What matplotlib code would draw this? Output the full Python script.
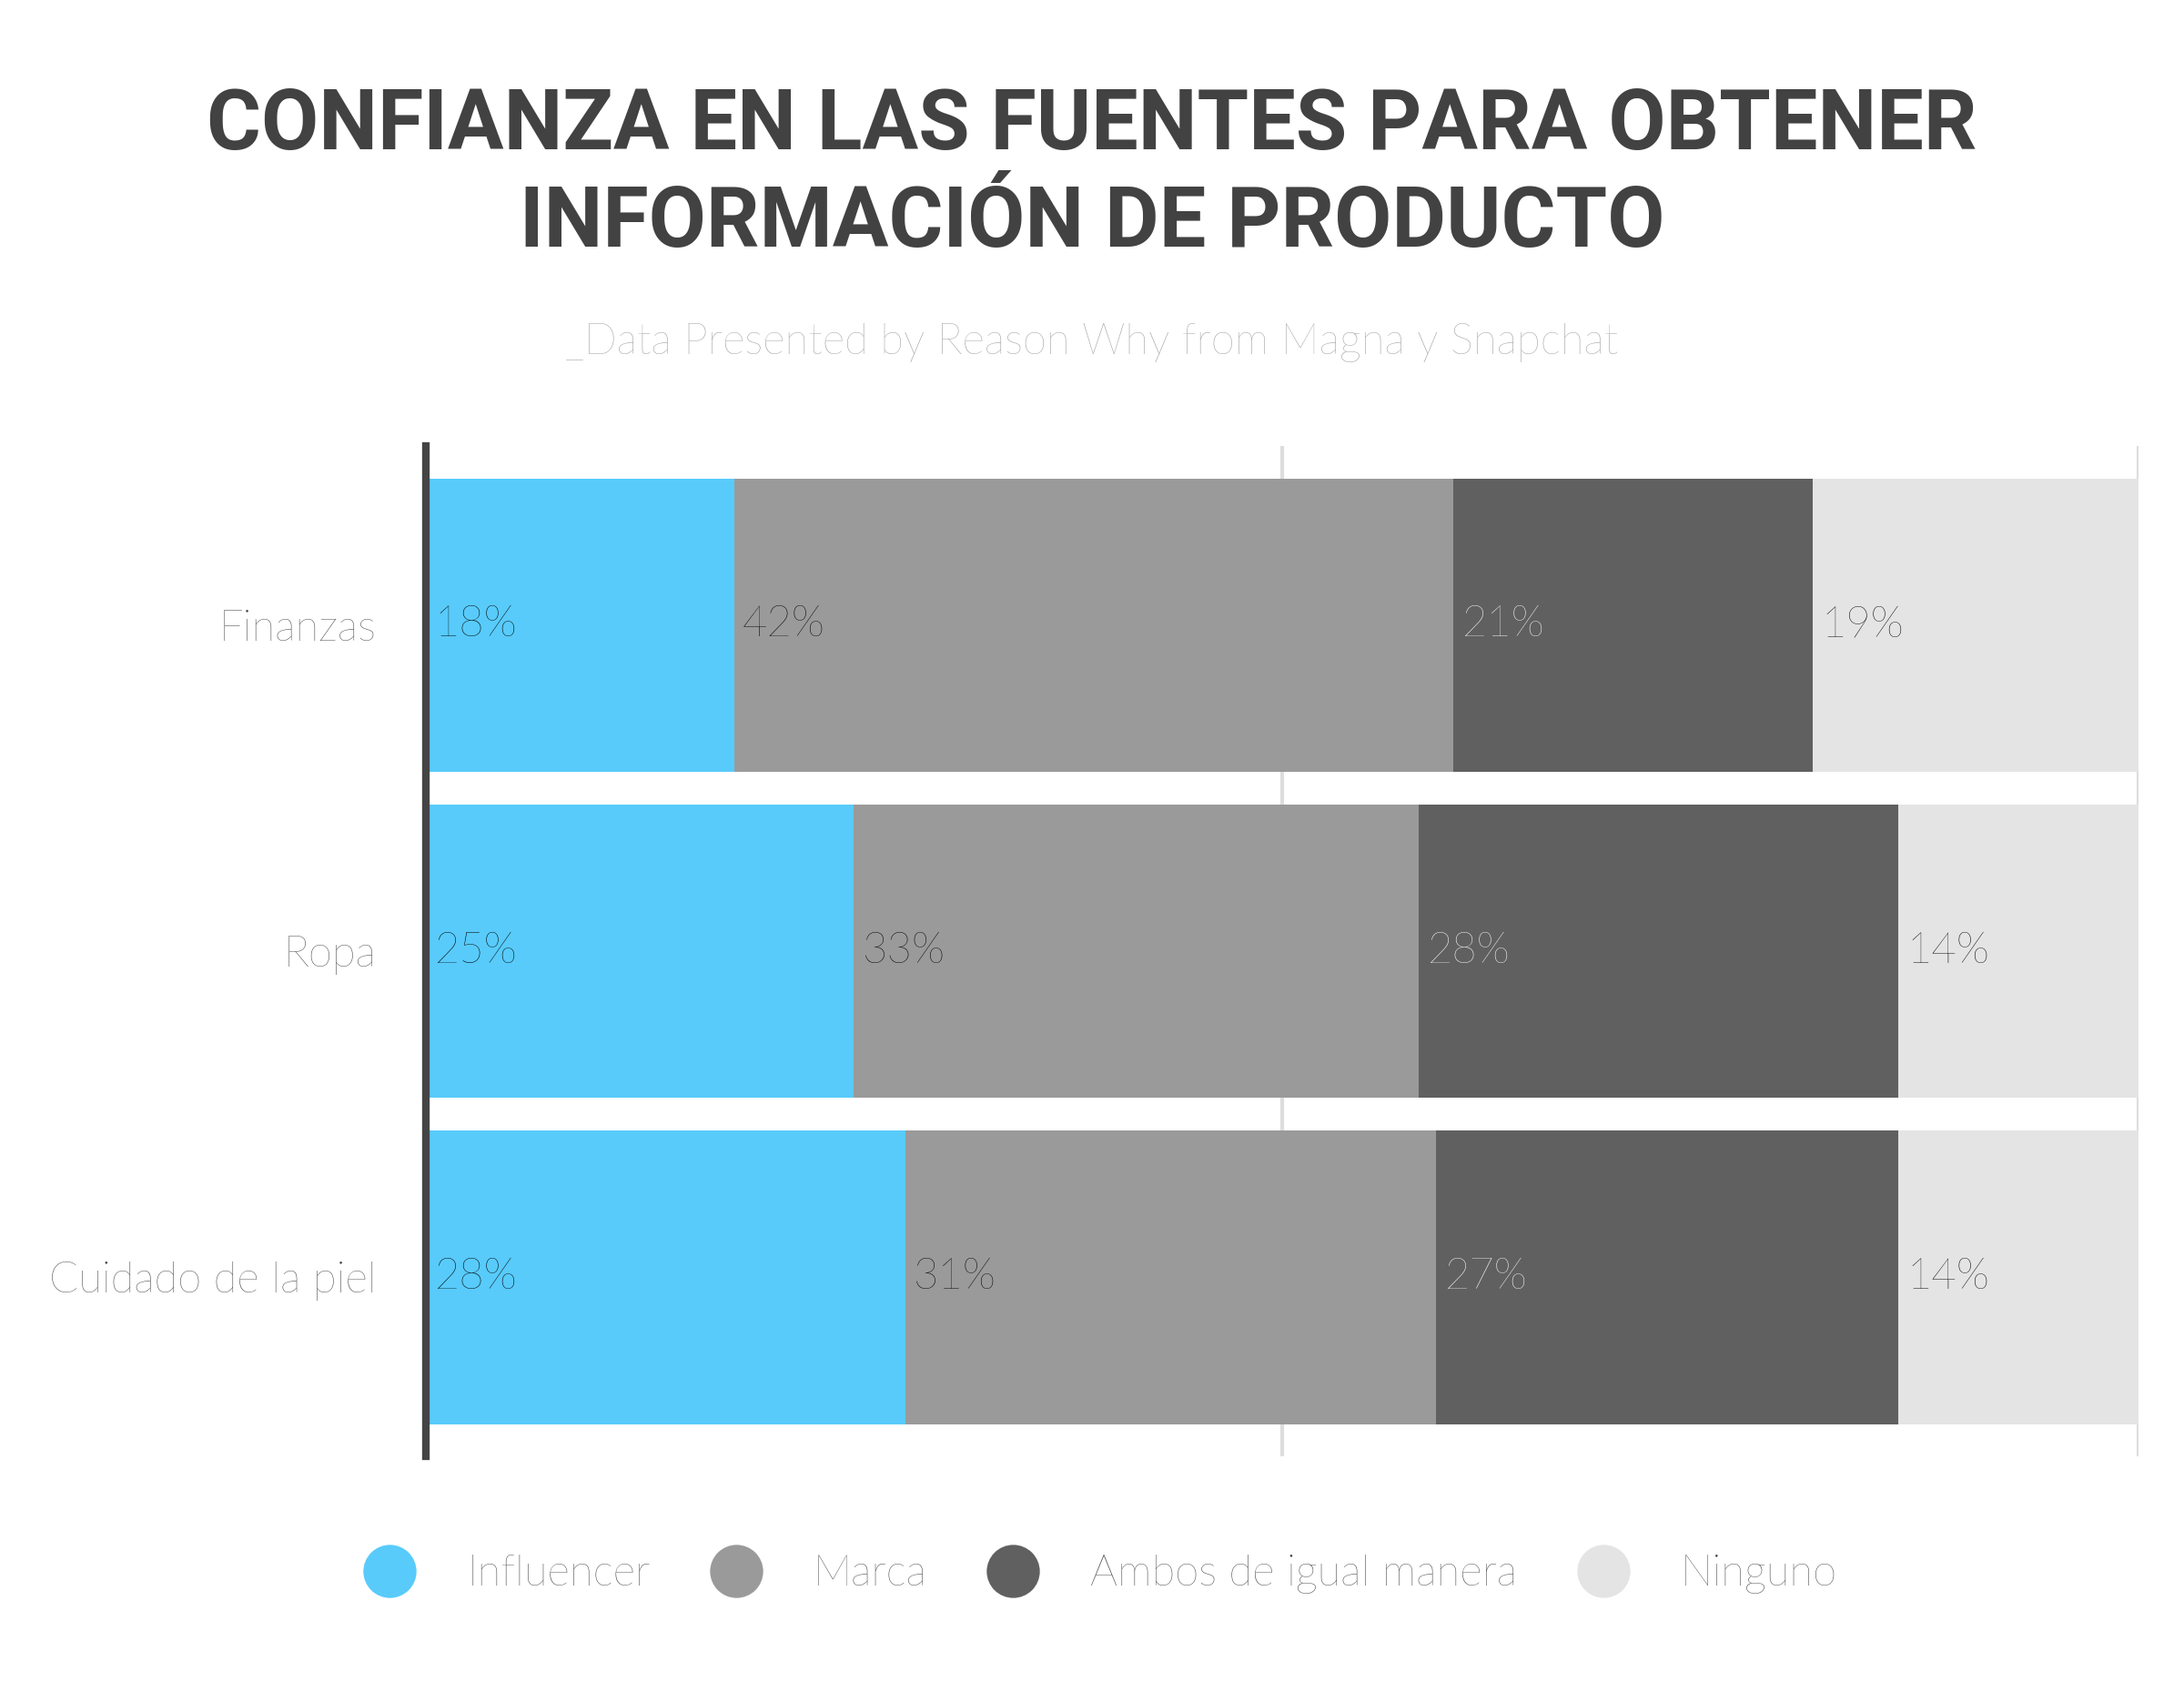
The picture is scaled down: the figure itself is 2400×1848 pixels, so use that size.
import matplotlib.pyplot as plt
import numpy as np

categories = ["Finanzas", "Ropa", "Cuidado de la piel"]
series = ["Influencer", "Marca", "Ambos de igual manera", "Ninguno"]
influencer = [18, 25, 28]
marca = [42, 33, 31]
ambos = [21, 28, 27]
ninguno = [19, 14, 14]
colors = ["#58cbfb", "#9a9a9a", "#606060", "#e4e4e4"]
text_colors = ["black", "black", "white", "black"]

fig = plt.figure(figsize=(12, 9.24), dpi=200)
ax = fig.add_axes([0.195, 0.134, 0.784, 0.601])

data = [influencer, marca, ambos, ninguno]
y = np.arange(len(categories))
left = np.zeros(len(categories))
for vals, name, c, tc in zip(data, series, colors, text_colors):
    ax.barh(y, vals, left=left, height=0.9, color=c, label=name, zorder=2)
    for yi, l, v in zip(y, left, vals):
        ax.text(l + 0.5, yi, f"{v}%", va="center", ha="left", fontsize=17,
                color=tc, family="Lato", fontweight="light", zorder=3)
    left += np.array(vals)

ax.set_xlim(0, 100)
ax.set_ylim(2.55, -0.55)
ax.set_yticks(y)
ax.set_yticklabels(categories, fontsize=17, family="Lato", fontweight="light", color="#444444")
ax.tick_params(left=False, bottom=False, labelbottom=False, pad=16)
ax.set_xticks([0, 50, 100])
ax.grid(axis="x", color="#dddddd", linewidth=1.5, zorder=0)
for s in ["top", "right", "bottom"]:
    ax.spines[s].set_visible(False)
ax.spines["left"].set_linewidth(3)
ax.spines["left"].set_color("#444444")
ax.spines["left"].set_zorder(4)

fig.text(0.5, 0.896, "CONFIANZA EN LAS FUENTES PARA OBTENER\nINFORMACIÓN DE PRODUCTO",
         ha="center", va="center", fontsize=33, fontweight="bold", color="#424242",
         family=["Roboto", "DejaVu Sans"], linespacing=1.25)
fig.text(0.5, 0.796, "_Data Presented by Reason Why from Magna y Snapchat",
         ha="center", va="center", fontsize=17, color="#9a9a9a", family="Lato",
         fontweight="light")

handles = [plt.Line2D([], [], marker="o", linestyle="", markersize=20,
                      markerfacecolor=c, markeredgecolor=c) for c in colors]
fig.legend(handles, series, loc="center", bbox_to_anchor=(0.5, 0.064), ncol=4,
           frameon=False, prop={"family": "Lato", "size": 17, "weight": "light"},
           labelcolor="#444444", handletextpad=0.8, columnspacing=1.0)

fig.savefig("out.png", dpi=200, facecolor="white")
